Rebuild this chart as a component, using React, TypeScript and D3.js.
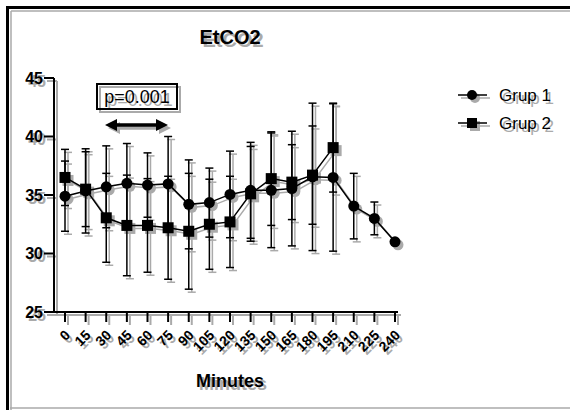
import React from 'react';
import * as d3 from 'd3';

const minutes = [0, 15, 30, 45, 60, 75, 90, 105, 120, 135, 150, 165, 180, 195, 210, 225, 240];
const grup1Mean = [34.9, 35.35, 35.7, 36.0, 35.85, 35.95, 34.2, 34.35, 35.05, 35.4, 35.4, 35.55, 36.55, 36.5, 34.05, 33.0, 31.0];
const grup1Sd = [3.0, 3.6, 3.5, 3.4, 2.75, 4.05, 3.8, 2.95, 3.7, 4.1, 4.9, 4.9, 6.3, 6.3, 2.8, 1.4, 0];
const grup2Mean = [36.5, 35.5, 33.05, 32.4, 32.4, 32.2, 31.9, 32.5, 32.7, 35.1, 36.4, 36.1, 36.7, 39.05];
const grup2Sd = [2.4, 3.2, 3.8, 4.3, 4.0, 4.4, 4.95, 3.85, 3.9, 4.05, 4.0, 3.2, 4.2, 3.8];
const yTicks = [25, 30, 35, 40, 45];
const legendNames = ['Grup 1', 'Grup 2'];

const W = 570;
const H = 410;
const FONT = 'Arial, "Liberation Sans", sans-serif';

const x = d3.scaleLinear().domain([0, 240]).range([65, 395]);
const y = d3.scaleLinear().domain([25, 45]).range([312, 78]);
const axisX = 54;

const line = d3.line<[number, number]>().x(d => x(d[0])).y(d => y(d[1]));

const g1 = minutes.map((m, i) => [m, grup1Mean[i]] as [number, number]);
const g2 = grup2Mean.map((v, i) => [minutes[i], v] as [number, number]);

function ErrorBars({ means, sds, color }: { means: number[]; sds: number[]; color: string }) {
  return (
    <g stroke={color} strokeWidth={1.5}>
      {means.map((m, i) => {
        const sd = sds[i];
        if (!sd) return null;
        const cx = x(minutes[i]);
        const top = y(m + sd);
        const bot = y(m - sd);
        return (
          <g key={i}>
            <line x1={cx} x2={cx} y1={top} y2={bot} />
            <line x1={cx - 4} x2={cx + 4} y1={top} y2={top} />
            <line x1={cx - 4} x2={cx + 4} y1={bot} y2={bot} />
          </g>
        );
      })}
    </g>
  );
}

// whole chart drawn once in grey (shifted, as a drop shadow) and once in black
function Layer({ color, dx, dy }: { color: string; dx: number; dy: number }) {
  return (
    <g transform={`translate(${dx},${dy})`} fill={color} fontFamily={FONT}>
      <text x={230} y={44} textAnchor="middle" fontWeight="bold" fontSize={20}>EtCO2</text>

      {/* y axis */}
      <line x1={axisX} x2={axisX} y1={y(45)} y2={y(25)} stroke={color} strokeWidth={2} />
      {yTicks.map(t => (
        <g key={t}>
          <line x1={axisX - 10} x2={axisX} y1={y(t)} y2={y(t)} stroke={color} strokeWidth={2} />
          <text x={axisX - 11} y={y(t)} dy="0.36em" textAnchor="end" fontWeight="bold" fontSize={16}>{t}</text>
        </g>
      ))}

      {/* x axis */}
      <line x1={axisX} x2={398} y1={312} y2={312} stroke={color} strokeWidth={2} />
      {minutes.map(m => (
        <g key={m}>
          <line x1={x(m)} x2={x(m)} y1={312} y2={322} stroke={color} strokeWidth={2} />
          <text transform={`translate(${x(m) + 6},336) rotate(-45)`} textAnchor="end" fontWeight="bold" fontSize={14}>{m}</text>
        </g>
      ))}
      <text x={230} y={387} textAnchor="middle" fontWeight="bold" fontSize={18}>Minutes</text>

      {/* error bars */}
      <ErrorBars means={grup1Mean} sds={grup1Sd} color={color} />
      <ErrorBars means={grup2Mean} sds={grup2Sd} color={color} />

      {/* lines and markers */}
      <path d={line(g1) || ''} fill="none" stroke={color} strokeWidth={1.5} />
      <path d={line(g2) || ''} fill="none" stroke={color} strokeWidth={1.5} />
      {g1.map((d, i) => <circle key={i} cx={x(d[0])} cy={y(d[1])} r={5.5} />)}
      {g2.map((d, i) => <rect key={i} x={x(d[0]) - 5.5} y={y(d[1]) - 5.5} width={11} height={11} />)}

      {/* legend */}
      {legendNames.map((name, i) => {
        const ly = 95 + i * 28;
        return (
          <g key={name}>
            <line x1={458} x2={487} y1={ly} y2={ly} stroke={color} strokeWidth={1.5} />
            {i === 0
              ? <circle cx={472} cy={ly} r={5} />
              : <rect x={467} y={ly - 5} width={10} height={10} />}
            <text x={499} y={ly} dy="0.36em" fontSize={17}>{name}</text>
          </g>
        );
      })}

      {/* p value annotation */}
      <rect x={97} y={84} width={80} height={25} fill="none" stroke={color} strokeWidth={2} />
      <text x={137} y={97} dy="0.36em" textAnchor="middle" fontSize={18}>p=0.001</text>
      <line x1={114} x2={159} y1={125} y2={125} stroke={color} strokeWidth={3.5} />
      <path d="M105,125 L117,119 L117,131 Z" />
      <path d="M168,125 L156,119 L156,131 Z" />
    </g>
  );
}

export default function App() {
  return (
    <svg width={W} height={H} style={{ position: 'absolute', left: 0, top: 0, background: '#fff' }}>
      <rect x={0} y={0} width={W} height={H} fill="#fff" />
      {/* frame */}
      <line x1={11} x2={W} y1={11} y2={11} stroke="#aaa" strokeWidth={1.5} />
      <line x1={11} x2={11} y1={11} y2={H} stroke="#aaa" strokeWidth={1.5} />
      <line x1={10} x2={W} y1={408} y2={408} stroke="#aaa" strokeWidth={1.5} />
      <rect x={7.5} y={7.5} width={W} height={H} fill="none" stroke="#000" strokeWidth={3} />
      <Layer color="#aaa" dx={3} dy={3} />
      <Layer color="#000" dx={0} dy={0} />
    </svg>
  );
}
